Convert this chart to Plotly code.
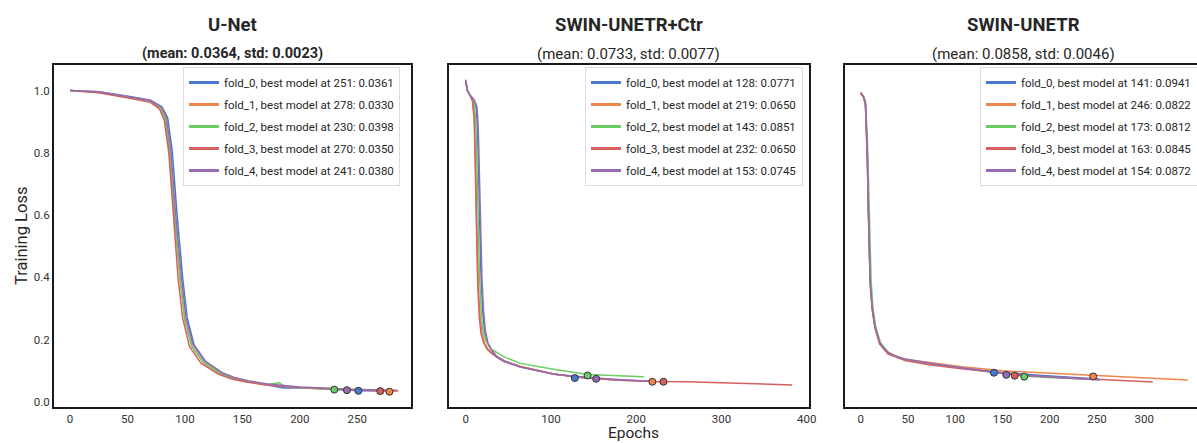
import plotly.graph_objects as go

# ---------------- data ----------------
panel_titles = ["U-Net", "SWIN-UNETR+Ctr", "SWIN-UNETR"]
panel_subtitles = ["(mean: 0.0364, std: 0.0023)", "(mean: 0.0733, std: 0.0077)", "(mean: 0.0858, std: 0.0046)"]
fold_names = ["fold_0", "fold_1", "fold_2", "fold_3", "fold_4"]

# U-Net
unet_epochs = [
    [0, 25, 52, 70, 80, 85, 89, 93, 98, 102, 108, 118, 133, 143, 155, 172, 186, 200, 230, 251, 270, 284],
    [0, 25, 52, 70, 79, 83, 87, 91, 96, 100, 106, 116, 131, 142, 154, 172, 200, 230, 260, 278, 286],
    [0, 25, 52, 70, 79, 83, 87, 91, 96, 100, 106, 116, 131, 142, 154, 172, 182, 186, 200, 230, 255, 280],
    [0, 25, 52, 70, 78, 82, 86, 90, 94, 98, 104, 114, 129, 140, 152, 170, 200, 230, 250, 270, 285],
    [0, 25, 52, 70, 80, 84, 88, 92, 97, 101, 107, 117, 132, 143, 155, 172, 200, 230, 241, 260, 283],
]
unet_loss = [
    [1.0, 0.996, 0.981, 0.969, 0.948, 0.913, 0.805, 0.61, 0.40, 0.27, 0.183, 0.13, 0.092, 0.077, 0.066, 0.055, 0.045, 0.046, 0.041, 0.0365, 0.036, 0.0355],
    [1.0, 0.994, 0.977, 0.964, 0.942, 0.905, 0.79, 0.59, 0.39, 0.265, 0.18, 0.128, 0.092, 0.076, 0.066, 0.056, 0.047, 0.042, 0.038, 0.034, 0.035],
    [1.0, 0.995, 0.978, 0.966, 0.945, 0.91, 0.80, 0.60, 0.39, 0.26, 0.178, 0.127, 0.091, 0.075, 0.065, 0.056, 0.062, 0.052, 0.046, 0.040, 0.040, 0.038],
    [1.0, 0.993, 0.975, 0.962, 0.94, 0.905, 0.80, 0.60, 0.40, 0.27, 0.178, 0.125, 0.09, 0.075, 0.065, 0.055, 0.047, 0.042, 0.039, 0.035, 0.0375],
    [1.0, 0.996, 0.98, 0.968, 0.946, 0.912, 0.80, 0.60, 0.40, 0.27, 0.185, 0.133, 0.095, 0.079, 0.068, 0.058, 0.048, 0.043, 0.0385, 0.039, 0.037],
]
unet_best_epoch = [251, 278, 230, 270, 241]
unet_best_value = [0.0361, 0.0330, 0.0398, 0.0350, 0.0380]

# SWIN-UNETR+Ctr
ctr_epochs = [
    [0, 2, 5, 9, 12, 13, 14, 15, 16, 17, 18, 20, 22, 25, 29, 36, 45, 64, 103, 128, 160, 200],
    [0, 2, 5, 8, 10, 11, 12, 13, 14, 15, 17, 19, 22, 26, 31, 36, 45, 64, 103, 142, 181, 219, 232],
    [0, 2, 5, 9, 11, 12, 13, 14, 15, 16, 18, 20, 23, 27, 31, 36, 45, 64, 103, 143, 175, 209],
    [0, 2, 5, 8, 10, 11, 12, 13, 14, 16, 18, 21, 25, 30, 36, 45, 64, 103, 142, 181, 220, 259, 300, 338, 383],
    [0, 2, 5, 10, 13, 14, 15, 16, 17, 18, 19, 21, 23, 26, 30, 36, 45, 64, 103, 153, 190, 222],
]
ctr_loss = [
    [1.03, 1.0, 0.985, 0.972, 0.95, 0.92, 0.85, 0.75, 0.64, 0.5, 0.4, 0.29, 0.23, 0.195, 0.172, 0.148, 0.133, 0.114, 0.09, 0.080, 0.074, 0.069],
    [1.03, 1.0, 0.985, 0.968, 0.92, 0.85, 0.72, 0.58, 0.45, 0.36, 0.27, 0.22, 0.19, 0.17, 0.157, 0.147, 0.132, 0.114, 0.09, 0.077, 0.07, 0.066, 0.065],
    [1.03, 1.0, 0.985, 0.97, 0.93, 0.88, 0.78, 0.66, 0.54, 0.42, 0.3, 0.235, 0.2, 0.18, 0.168, 0.159, 0.145, 0.124, 0.105, 0.088, 0.084, 0.081],
    [1.035, 1.0, 0.985, 0.965, 0.9, 0.78, 0.62, 0.48, 0.38, 0.27, 0.22, 0.19, 0.17, 0.157, 0.145, 0.13, 0.113, 0.09, 0.077, 0.07, 0.066, 0.065, 0.062, 0.06, 0.055],
    [1.03, 1.0, 0.985, 0.97, 0.95, 0.92, 0.85, 0.75, 0.64, 0.5, 0.4, 0.29, 0.23, 0.19, 0.168, 0.145, 0.13, 0.112, 0.089, 0.077, 0.07, 0.067],
]
ctr_best_epoch = [128, 219, 143, 232, 153]
ctr_best_value = [0.0771, 0.0650, 0.0851, 0.0650, 0.0745]

# SWIN-UNETR
swin_epochs = [
    [0, 3, 5, 6, 7, 8, 9, 10, 12, 15, 20, 29, 47, 72, 107, 141, 188, 220, 252],
    [0, 3, 5, 6, 7, 8, 9, 10, 12, 15, 20, 29, 47, 72, 107, 150, 204, 246, 292, 320, 346],
    [0, 3, 5, 6, 7, 8, 9, 10, 11, 13, 16, 21, 30, 47, 72, 107, 142, 173, 205, 235],
    [0, 3, 5, 6, 7, 8, 9, 10, 12, 15, 20, 29, 47, 72, 107, 163, 200, 257, 309],
    [0, 3, 5, 6, 7, 8, 9, 10, 12, 15, 20, 25, 29, 38, 47, 72, 107, 154, 200, 253],
]
swin_loss = [
    [0.99, 0.98, 0.96, 0.9, 0.8, 0.65, 0.5, 0.4, 0.31, 0.245, 0.19, 0.157, 0.136, 0.124, 0.11, 0.097, 0.086, 0.08, 0.074],
    [0.99, 0.98, 0.958, 0.89, 0.79, 0.64, 0.48, 0.39, 0.305, 0.24, 0.19, 0.158, 0.137, 0.127, 0.113, 0.1, 0.092, 0.084, 0.078, 0.075, 0.0706],
    [0.99, 0.982, 0.965, 0.92, 0.85, 0.74, 0.6, 0.47, 0.39, 0.3, 0.24, 0.19, 0.157, 0.134, 0.123, 0.108, 0.095, 0.083, 0.078, 0.074],
    [0.995, 0.978, 0.955, 0.88, 0.78, 0.62, 0.47, 0.38, 0.3, 0.24, 0.186, 0.154, 0.133, 0.12, 0.107, 0.088, 0.08, 0.0706, 0.064],
    [0.99, 0.98, 0.96, 0.9, 0.8, 0.64, 0.49, 0.39, 0.31, 0.245, 0.192, 0.17, 0.16, 0.145, 0.138, 0.125, 0.11, 0.09, 0.08, 0.0706],
]
swin_best_epoch = [141, 246, 173, 163, 154]
swin_best_value = [0.0941, 0.0822, 0.0812, 0.0845, 0.0872]

colors = ["#4878d0", "#ee854a", "#6acc64", "#d65f5f", "#956cb4"]

# ---------------- figure ----------------
FONT = "Roboto, Liberation Sans, sans-serif"
W, H = 1197, 443


def px(X):
    return X / W


def py(Y):
    return 1 - Y / H


panels = [
    (unet_epochs, unet_loss, unet_best_epoch, unet_best_value),
    (ctr_epochs, ctr_loss, ctr_best_epoch, ctr_best_value),
    (swin_epochs, swin_loss, swin_best_epoch, swin_best_value),
]
x_domains = [[px(53.9), px(411.3)], [px(449.4), px(808.5)], [px(845), 1.0]]
x_ranges = [[-14, 297], [-19.15, 402.15], [-16.6, 355.8]]
x_dticks = [50, 100, 50]
y_domain = [py(407), py(65)]
y_range = [-0.016, 1.082]
legend_x = [px(183), px(585), px(980)]

fig = go.Figure()
for p, (eps, losses, be, bv) in enumerate(panels):
    xa = "x" if p == 0 else f"x{p+1}"
    ya = "y" if p == 0 else f"y{p+1}"
    lg = "legend" if p == 0 else f"legend{p+1}"
    for f in range(5):
        fig.add_trace(go.Scatter(
            x=eps[f], y=losses[f], mode="lines",
            line=dict(color=colors[f], width=1.5),
            xaxis=xa, yaxis=ya, showlegend=False, hoverinfo="skip"))
    for f in range(5):
        fig.add_trace(go.Scatter(
            x=[be[f]], y=[bv[f]], mode="markers",
            marker=dict(color=colors[f], size=7, line=dict(color="#333333", width=1)),
            xaxis=xa, yaxis=ya, showlegend=False, hoverinfo="skip"))
    for f in range(5):
        fig.add_trace(go.Scatter(
            x=[None], y=[None], mode="lines",
            line=dict(color=colors[f], width=3),
            name=f"{fold_names[f]}, best model at {be[f]}: {bv[f]:.4f}",
            xaxis=xa, yaxis=ya, legend=lg, legendgroup=f"p{p}f{f}", showlegend=True))

layout = dict(
    width=W, height=H,
    margin=dict(l=0, r=0, t=0, b=0, autoexpand=False),
    paper_bgcolor="white", plot_bgcolor="white",
    font=dict(family=FONT, color="#262626"),
    showlegend=True,
)
axis_common = dict(showgrid=False, zeroline=False, showline=True, linecolor="#1a1a1a",
                   linewidth=1.6, ticks="", ticklen=0,
                   tickfont=dict(family=FONT, size=11.5, color="#333333"))
for p in range(3):
    sx = "" if p == 0 else str(p + 1)
    layout[f"xaxis{sx}"] = dict(axis_common, domain=x_domains[p], range=x_ranges[p],
                                dtick=x_dticks[p], tick0=0, anchor=f"y{sx}", mirror=True)
    layout[f"yaxis{sx}"] = dict(axis_common, domain=y_domain, range=y_range, anchor=f"x{sx}",
                                tickvals=[0.0, 0.2, 0.4, 0.6, 0.8, 1.0], tickformat=".1f",
                                showticklabels=(p == 0), mirror=(p != 2))
    lg = "legend" if p == 0 else f"legend{p+1}"
    layout[lg] = dict(x=legend_x[p], y=py(67), xanchor="left", yanchor="top",
                      bgcolor="white", bordercolor="#dcdcdc", borderwidth=1,
                      font=dict(family=FONT, size=11.5, color="#262626"),
                      tracegroupgap=3, itemwidth=30)
fig.update_layout(**layout)

# titles
title_cx = [(53.9 + 411.3) / 2, (449.4 + 808.5) / 2, (845 + 1201) / 2]
for p in range(3):
    cx = px(title_cx[p])
    fig.add_annotation(x=cx, y=py(25), xref="paper", yref="paper", showarrow=False,
                       text=f"<b>{panel_titles[p]}</b>", font=dict(family=FONT, size=18.5, color="#262626"),
                       xanchor="center", yanchor="middle")
    sub = f"<b>{panel_subtitles[p]}</b>" if p == 0 else panel_subtitles[p]
    fig.add_annotation(x=cx, y=py(54), xref="paper", yref="paper", showarrow=False,
                       text=sub, font=dict(family=FONT, size=14.5 if p == 0 else 15, color="#262626"),
                       xanchor="center", yanchor="middle")

fig.add_annotation(x=px(22), y=py(236), xref="paper", yref="paper", showarrow=False,
                   text="Training Loss", textangle=-90, font=dict(family=FONT, size=16.5, color="#262626"),
                   xanchor="center", yanchor="middle")
fig.add_annotation(x=px(633), y=0, xref="paper", yref="paper", showarrow=False,
                   text="Epochs", font=dict(family=FONT, size=15.5, color="#262626"),
                   xanchor="center", yanchor="bottom", yshift=-1)

# remove the default 8px page margin so the figure fills the window exactly
fig.write_html("out.html", config={"displayModeBar": False},
               post_script="document.body.style.margin='0';")
